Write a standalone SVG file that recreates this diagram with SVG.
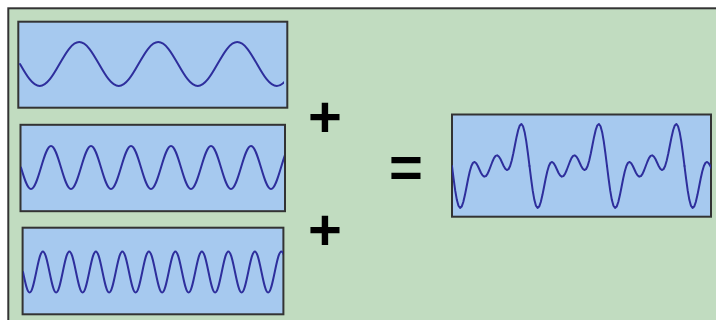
<svg xmlns="http://www.w3.org/2000/svg" xmlns:xlink="http://www.w3.org/1999/xlink" width="716" height="320" viewBox="0 0 716 320">
<style>
.frame{fill:#c1dcc0;stroke:#333;stroke-width:2}
.box{fill:#a6c9ef;stroke:#333;stroke-width:2}
.wave{fill:none;stroke:#2e2e9c;stroke-width:2;stroke-linejoin:round;stroke-linecap:round;vector-effect:non-scaling-stroke}
.op{font-family:"Liberation Sans",Arial,sans-serif;font-weight:bold;font-size:58px;fill:#000;text-anchor:middle}
</style>
<defs>
<clipPath id="c1"><rect x="19" y="22" width="265" height="85"/></clipPath>
<clipPath id="c2"><rect x="21" y="125" width="263" height="86"/></clipPath>
<clipPath id="c3"><rect x="23" y="228" width="260" height="86"/></clipPath>
<clipPath id="c4"><rect x="452" y="115" width="259" height="102"/></clipPath>
<path id="sum" class="wave" d="M0,0 L1,.772 2,1.466 3,2.014 4,2.366 5,2.499 6,2.414 7,2.142 8,1.732 9,1.248 10,.759 11,.326 12,0 13,-.191 14,-.241 15,-.166 16,0 17,.21 18,.414 19,.567 20,.634 21,.6 22,.466 23,.254 24,0 25,-.254 26,-.466 27,-.6 28,-.634 29,-.567 30,-.414 31,-.21 32,0 33,.166 34,.241 35,.191 36,0 37,-.326 38,-.759 39,-1.248 40,-1.732 41,-2.142 42,-2.414 43,-2.499 44,-2.366 45,-2.014 46,-1.466 47,-.772 48,0"/>
</defs>
<rect class="frame" x="8.3" y="8.3" width="720" height="330"/>
<g id="wave1">
<rect class="box" x="18.3" y="21.7" width="269" height="86"/>
<g clip-path="url(#c1)">
<path class="wave" transform="translate(20,64) scale(19.75,22)" d="M0,0 c.3261,.5123 .6381,1 1,1 s.6739,-.4877 1,-1 s.6381,-1 1,-1 s.6739,.4877 1,1 s.6381,1 1,1 s.6739,-.4877 1,-1 s.6381,-1 1,-1 s.6739,.4877 1,1 s.6381,1 1,1 s.6739,-.4877 1,-1 s.6381,-1 1,-1 s.6739,.4877 1,1 s.6381,1 1,1 s.6739,-.4877 1,-1 s.6381,-1 1,-1 s.6739,.4877 1,1"/>
</g>
</g>
<g id="wave2">
<rect class="box" x="20.5" y="124.8" width="264.5" height="86.4"/>
<g clip-path="url(#c2)">
<path class="wave" transform="translate(21,167.5) scale(10,21.5)" d="M0,0 c.3261,.5123 .6381,1 1,1 s.6739,-.4877 1,-1 s.6381,-1 1,-1 s.6739,.4877 1,1 s.6381,1 1,1 s.6739,-.4877 1,-1 s.6381,-1 1,-1 s.6739,.4877 1,1 s.6381,1 1,1 s.6739,-.4877 1,-1 s.6381,-1 1,-1 s.6739,.4877 1,1 s.6381,1 1,1 s.6739,-.4877 1,-1 s.6381,-1 1,-1 s.6739,.4877 1,1 s.6381,1 1,1 s.6739,-.4877 1,-1 s.6381,-1 1,-1 s.6739,.4877 1,1 s.6381,1 1,1 s.6739,-.4877 1,-1 s.6381,-1 1,-1 s.6739,.4877 1,1 s.6381,1 1,1 s.6739,-.4877 1,-1 s.6381,-1 1,-1 s.6739,.4877 1,1"/>
</g>
</g>
<g id="wave3">
<rect class="box" x="22.6" y="227.7" width="260.8" height="86.6"/>
<g clip-path="url(#c3)">
<path class="wave" transform="translate(23,272) scale(6.625,20.5)" d="M0,0 c.3261,.5123 .6381,1 1,1 s.6739,-.4877 1,-1 s.6381,-1 1,-1 s.6739,.4877 1,1 s.6381,1 1,1 s.6739,-.4877 1,-1 s.6381,-1 1,-1 s.6739,.4877 1,1 s.6381,1 1,1 s.6739,-.4877 1,-1 s.6381,-1 1,-1 s.6739,.4877 1,1 s.6381,1 1,1 s.6739,-.4877 1,-1 s.6381,-1 1,-1 s.6739,.4877 1,1 s.6381,1 1,1 s.6739,-.4877 1,-1 s.6381,-1 1,-1 s.6739,.4877 1,1 s.6381,1 1,1 s.6739,-.4877 1,-1 s.6381,-1 1,-1 s.6739,.4877 1,1 s.6381,1 1,1 s.6739,-.4877 1,-1 s.6381,-1 1,-1 s.6739,.4877 1,1 s.6381,1 1,1 s.6739,-.4877 1,-1 s.6381,-1 1,-1 s.6739,.4877 1,1 s.6381,1 1,1 s.6739,-.4877 1,-1 s.6381,-1 1,-1 s.6739,.4877 1,1 s.6381,1 1,1 s.6739,-.4877 1,-1 s.6381,-1 1,-1 s.6739,.4877 1,1"/>
</g>
</g>
<g id="result">
<rect class="box" x="452" y="114.5" width="259" height="102.2"/>
<g clip-path="url(#c4)">
<use xlink:href="#sum" transform="translate(452,166) scale(1.61458,16.8)"/>
<use xlink:href="#sum" transform="translate(529.5,166) scale(1.61458,16.8)"/>
<use xlink:href="#sum" transform="translate(607,166) scale(1.61458,16.8)"/>
<use xlink:href="#sum" transform="translate(684.5,166) scale(1.61458,16.8)"/>
</g>
</g>
<g id="operators">
<text class="op" x="325" y="137">+</text>
<text class="op" x="325" y="250">+</text>
<text class="op" x="406" y="187">=</text>
</g>
</svg>
